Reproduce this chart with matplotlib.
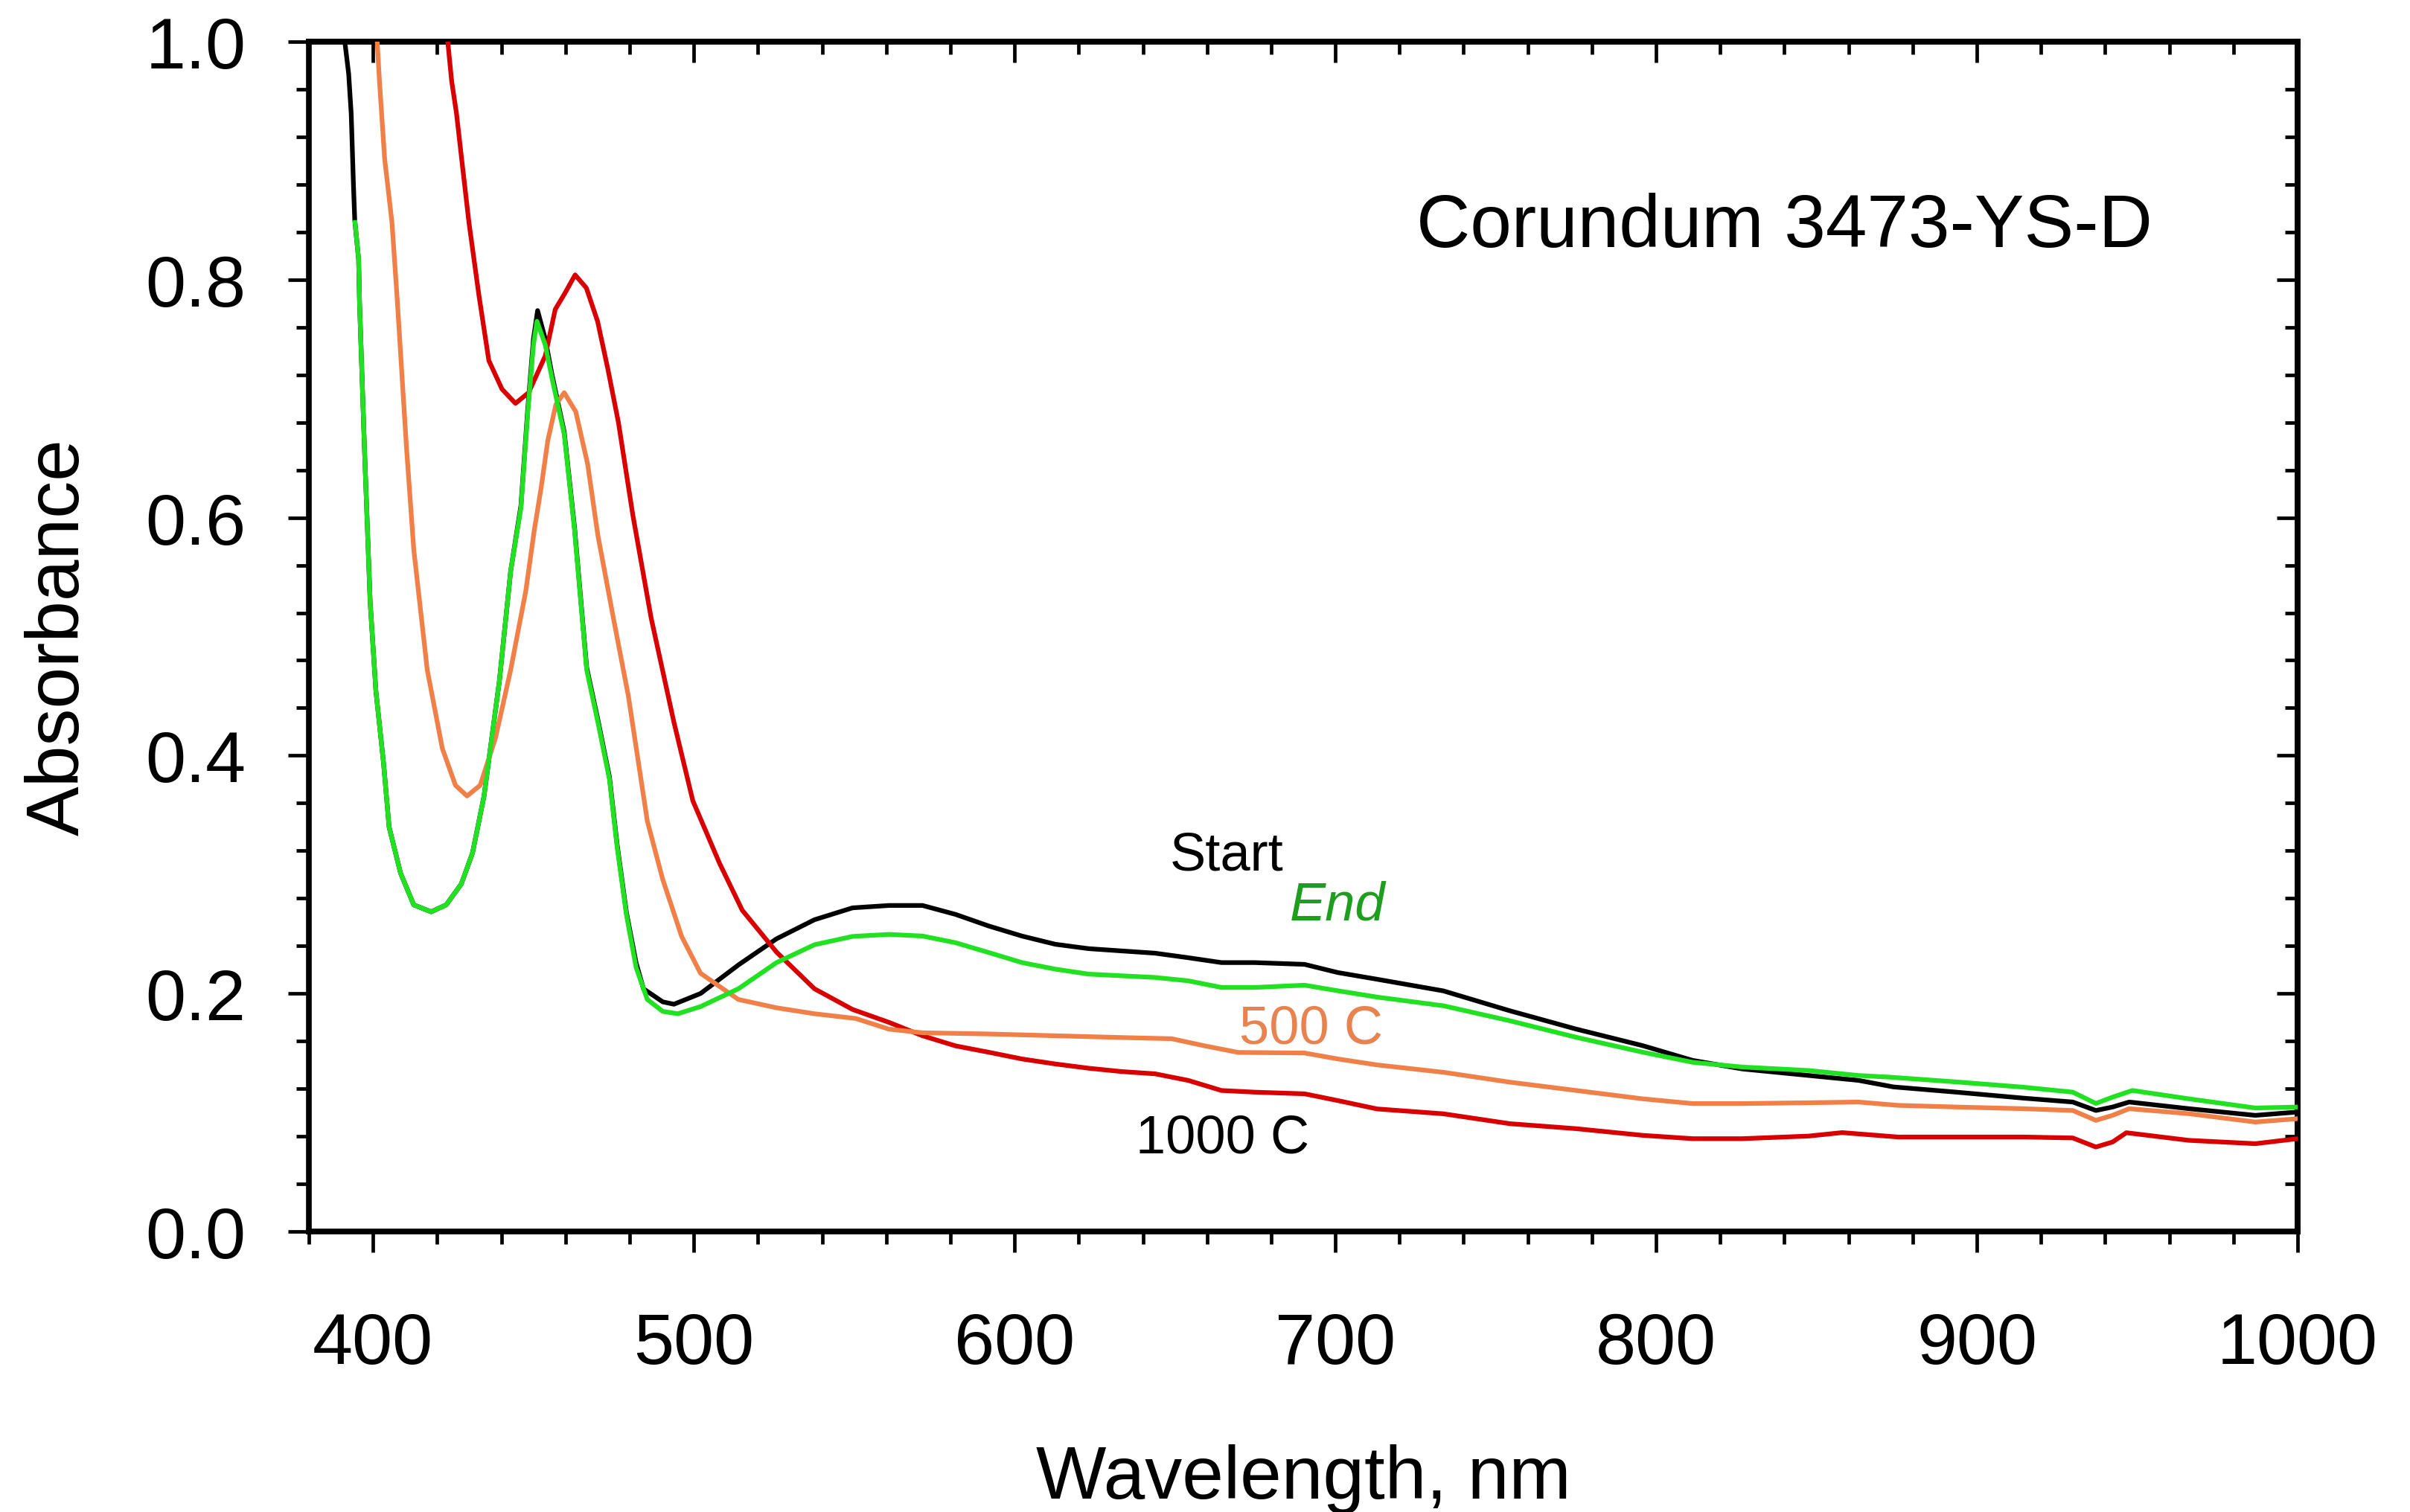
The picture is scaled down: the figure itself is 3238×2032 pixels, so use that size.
import matplotlib
matplotlib.use("Agg")
import matplotlib.pyplot as plt
from matplotlib.ticker import MultipleLocator, FormatStrFormatter

plt.rcParams['font.family'] = ['Liberation Sans', 'DejaVu Sans']

# %% Data (wavelength nm, absorbance)
wl_start = [391.2, 392.4, 393.2, 393.9, 394.3, 395.5, 395.8, 397.3, 399.1, 400.9,
            403.3, 405.0, 408.6, 412.7, 418.1, 422.8, 427.5, 431.0, 434.6, 439.4,
            442.9, 446.1, 448.2, 450.0, 451.3, 453.7, 455.8, 459.6, 462.8, 466.6,
            470.1, 473.7, 476.1, 479.0, 482.0, 484.3, 490.3, 493.8, 502.1, 513.9,
            525.8, 537.6, 549.5, 560.9, 571.3, 581.6, 592.0, 602.3, 612.7, 623.1,
            633.4, 643.8, 654.1, 664.5, 674.8, 690.4, 700.8, 713.0, 733.7, 754.4,
            775.1, 795.8, 811.4, 826.9, 847.6, 863.1, 874.0, 893.6, 914.4, 929.9,
            937.1, 942.3, 947.5, 966.1, 986.8, 1000.0]
abs_start = [1.000, 0.973, 0.939, 0.879, 0.850, 0.817, 0.780, 0.660, 0.529, 0.454,
             0.393, 0.340, 0.301, 0.2745, 0.2687, 0.2745, 0.292, 0.318, 0.366, 0.463,
             0.555, 0.610, 0.690, 0.750, 0.774, 0.750, 0.720, 0.672, 0.592, 0.474,
             0.430, 0.382, 0.325, 0.268, 0.226, 0.204, 0.193, 0.191, 0.200, 0.224,
             0.246, 0.262, 0.272, 0.2740, 0.2740, 0.2665, 0.2567, 0.2483, 0.2414, 0.2377,
             0.2358, 0.2339, 0.2301, 0.2260, 0.2260, 0.2245, 0.2176, 0.2120, 0.2022, 0.1855,
             0.1701, 0.1562, 0.1438, 0.1366, 0.1311, 0.1270, 0.1215, 0.1171, 0.1121, 0.1088,
             0.1017, 0.1046, 0.1088, 0.1032, 0.0976, 0.1004]

wl_end = [394.4, 395.5, 395.8, 397.3, 399.1, 400.9, 403.3, 405.0, 408.6, 412.7,
          418.1, 422.8, 427.5, 431.0, 434.6, 439.4, 442.9, 446.1, 448.2, 450.0,
          451.1, 453.7, 455.8, 459.6, 462.8, 466.6, 470.1, 473.7, 476.1, 479.0,
          482.0, 485.5, 490.3, 495.0, 502.1, 513.9, 525.8, 537.6, 549.5, 560.9,
          571.3, 581.6, 592.0, 602.3, 612.7, 623.1, 633.4, 643.8, 654.1, 664.5,
          674.8, 690.4, 700.8, 713.0, 733.7, 754.4, 775.1, 795.8, 811.4, 826.9,
          847.6, 863.1, 872.9, 893.6, 914.4, 929.9, 937.1, 942.3, 948.5, 966.1,
          986.8, 1000.0]
abs_end = [0.848, 0.817, 0.780, 0.660, 0.529, 0.454, 0.393, 0.340, 0.301, 0.2745,
           0.2687, 0.2745, 0.292, 0.318, 0.366, 0.463, 0.555, 0.608, 0.687, 0.745,
           0.765, 0.745, 0.717, 0.670, 0.590, 0.472, 0.428, 0.380, 0.323, 0.266,
           0.222, 0.195, 0.185, 0.183, 0.189, 0.204, 0.226, 0.241, 0.248, 0.2497,
           0.2483, 0.2427, 0.2344, 0.2260, 0.2205, 0.2163, 0.2149, 0.2135, 0.2107, 0.2051,
           0.2051, 0.2070, 0.2023, 0.1970, 0.1897, 0.1771, 0.1632, 0.1507, 0.1422, 0.1382,
           0.1353, 0.1311, 0.1297, 0.1257, 0.1213, 0.1171, 0.1076, 0.1129, 0.1185, 0.1115,
           0.1038, 0.1046]

wl_500 = [401.3, 402.0, 403.6, 405.9, 407.5, 410.4, 412.7, 416.9, 421.6, 425.7,
          429.3, 433.4, 438.2, 442.9, 447.6, 450.3, 452.4, 454.5, 457.0, 459.6,
          463.2, 466.9, 470.1, 474.9, 479.6, 485.5, 490.3, 496.2, 502.1, 513.9,
          525.8, 537.6, 550.5, 560.9, 571.3, 592.0, 612.7, 633.4, 649.0, 659.3,
          669.7, 690.4, 700.8, 713.0, 733.7, 754.4, 775.1, 795.8, 811.4, 826.9,
          847.6, 863.1, 875.4, 893.6, 914.4, 929.9, 937.1, 942.3, 947.5, 966.1,
          986.8, 1000.0]
abs_500 = [1.000, 0.967, 0.902, 0.848, 0.785, 0.660, 0.573, 0.472, 0.406, 0.375,
           0.366, 0.375, 0.415, 0.472, 0.538, 0.590, 0.625, 0.665, 0.695, 0.705,
           0.689, 0.645, 0.585, 0.516, 0.450, 0.345, 0.296, 0.248, 0.217, 0.195,
           0.188, 0.183, 0.179, 0.170, 0.167, 0.166, 0.1645, 0.1630, 0.1620, 0.1560,
           0.1505, 0.1500, 0.1450, 0.1400, 0.1338, 0.1255, 0.1185, 0.1115, 0.1075, 0.1075,
           0.1082, 0.1088, 0.1060, 0.1046, 0.1032, 0.1017, 0.0934, 0.0976, 0.1032, 0.0990,
           0.0920, 0.0948]

wl_1000 = [423.3, 424.5, 426.0, 427.6, 429.9, 433.0, 436.1, 440.2, 444.4, 448.5,
           453.7, 456.8, 459.9, 463.0, 466.5, 470.0, 473.2, 476.5, 481.0, 486.7,
           493.8, 499.7, 508.0, 515.1, 525.8, 537.6, 549.5, 560.9, 571.3, 581.6,
           592.0, 602.3, 612.7, 623.1, 633.4, 643.8, 654.1, 664.5, 674.8, 690.4,
           700.8, 713.0, 733.7, 754.4, 775.1, 795.8, 811.4, 826.9, 847.6, 858.0,
           875.4, 893.6, 914.4, 929.9, 937.1, 942.3, 946.6, 966.1, 986.8, 1000.0]
abs_1000 = [1.000, 0.967, 0.940, 0.902, 0.848, 0.787, 0.732, 0.708, 0.696, 0.705,
            0.736, 0.775, 0.789, 0.804, 0.793, 0.765, 0.725, 0.680, 0.602, 0.5156,
            0.428, 0.362, 0.3096, 0.270, 0.2348, 0.204, 0.1866, 0.1757, 0.1645, 0.1560,
            0.1506, 0.1450, 0.1408, 0.1372, 0.1344, 0.1325, 0.1270, 0.1185, 0.1171, 0.1157,
            0.1100, 0.1030, 0.0989, 0.0906, 0.0864, 0.0808, 0.0780, 0.0780, 0.0802, 0.0831,
            0.0794, 0.0794, 0.0794, 0.0786, 0.0710, 0.0752, 0.0830, 0.0766, 0.0738, 0.0780]

# label text, position (nm, absorbance), colour, style
labels = [("Start", 666.1, 0.316, "black", "normal"),
          ("End", 700.6, 0.274, "#1e9e1e", "italic"),
          ("500 C", 692.4, 0.170, "#e8824e", "normal"),
          ("1000 C", 664.9, 0.078, "black", "normal")]

# %% Figure
fig = plt.figure(figsize=(32.38, 20.33), dpi=100)
ax = fig.add_axes([0.12817, 0.18544, 0.82520, 0.78652])

lw = 4.5
ax.plot(wl_start, abs_start, color="black", lw=lw, zorder=2)
ax.plot(wl_1000, abs_1000, color="#d80000", lw=lw, zorder=3)
ax.plot(wl_500, abs_500, color="#f08048", lw=lw, zorder=4)
ax.plot(wl_end, abs_end, color="#22e022", lw=lw, zorder=5)

ax.set_xlim(380, 1000)
ax.set_ylim(0, 1.0)
ax.xaxis.set_major_locator(MultipleLocator(100))
ax.xaxis.set_minor_locator(MultipleLocator(20))
ax.yaxis.set_major_locator(MultipleLocator(0.2))
ax.yaxis.set_minor_locator(MultipleLocator(0.04))
ax.yaxis.set_major_formatter(FormatStrFormatter("%.1f"))

spine_w = 5.5
for s in ax.spines.values():
    s.set_linewidth(spine_w)

ax.tick_params(axis="both", which="both", direction="out", width=3.4, labelsize=70)
ax.tick_params(which="major", length=20)
ax.tick_params(which="minor", length=12)
ax.tick_params(axis="x", which="major", pad=57)
ax.tick_params(axis="y", which="major", pad=41)

# top and right: inward ticks, no labels
secx = ax.secondary_xaxis("top")
secx.xaxis.set_major_locator(MultipleLocator(100))
secx.xaxis.set_minor_locator(MultipleLocator(20))
secx.tick_params(which="both", direction="in", width=3.4, labeltop=False)
secx.tick_params(which="major", length=20)
secx.tick_params(which="minor", length=12)
secx.spines["top"].set_linewidth(spine_w)

secy = ax.secondary_yaxis("right")
secy.yaxis.set_major_locator(MultipleLocator(0.2))
secy.yaxis.set_minor_locator(MultipleLocator(0.04))
secy.tick_params(which="both", direction="in", width=3.4, labelright=False)
secy.tick_params(which="major", length=20)
secy.tick_params(which="minor", length=12)
secy.spines["right"].set_linewidth(spine_w)

ax.set_xlabel("Wavelength, nm", fontsize=72)
ax.set_ylabel("Absorbance", fontsize=72)
ax.xaxis.set_label_coords(0.5, -0.178)
ax.yaxis.set_label_coords(-0.108, 0.5)

ax.text(840, 0.844, "Corundum 3473-YS-D", fontsize=72, ha="center", va="center")
for txt, x, y, c, st in labels:
    ax.text(x, y, txt, fontsize=52, color=c, style=st, ha="center", va="center", zorder=6)

fig.savefig("out.png", dpi=100)
